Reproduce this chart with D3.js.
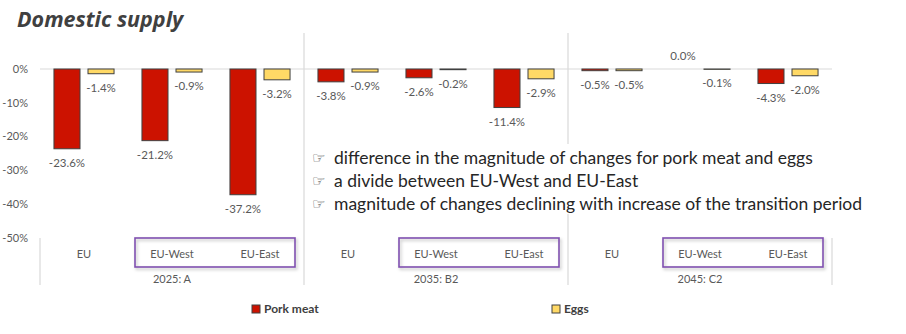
<!DOCTYPE html>
<html>
<head>
<meta charset="utf-8">
<script src="https://cdn.jsdelivr.net/npm/d3@7"></script>
<style>
  body { margin: 0; background: #fff; }
  svg { display: block; font-family: Lato, "Open Sans", sans-serif; }
</style>
</head>
<body>
<div class="chart"></div>
<script>
const categories = ["EU", "EU-West", "EU-East", "EU", "EU-West", "EU-East", "EU", "EU-West", "EU-East"];
const periods = ["2025: A", "2035: B2", "2045: C2"];
const porkMeat = [-23.6, -21.2, -37.2, -3.8, -2.6, -11.4, -0.5, 0.0, -4.3];
const eggs = [-1.4, -0.9, -3.2, -0.9, -0.2, -2.9, -0.5, -0.1, -2.0];
const yTicks = [0, -10, -20, -30, -40, -50];
const notes = [
    "difference in the magnitude of changes for pork meat and eggs",
    "a divide between EU-West and EU-East",
    "magnitude of changes declining with increase of the transition period"
];
const seriesNames = ["Pork meat", "Eggs"];
const colors = {"Pork meat": "#cc1200", "Eggs": "#ffd966"};

const svg = d3.select('.chart')
    .append('svg')
        .attr("width", 906)
        .attr("height", 334)
        .attr("viewBox", "0 0 906 334")

const defs = svg.append("defs");
const shadow = defs.append("filter").attr("id", "shadow")
    .attr("x", "-5%").attr("y", "-20%").attr("width", "115%").attr("height", "160%");
shadow.append("feDropShadow")
    .attr("dx", 1.5).attr("dy", 2).attr("stdDeviation", 1.5)
    .attr("flood-color", "#000").attr("flood-opacity", 0.25);

const chartLeftX = 40;
const chartRightX = 832;
const zeroY = 69;
const axisBottomY = 238;
const lineBottomY = 285;

const yScale = d3.scaleLinear()
    .domain([-50, 0])
    .range([axisBottomY, zeroY]);

const xScale = d3.scaleBand()
    .domain(d3.range(categories.length))
    .range([chartLeftX, chartRightX]);

const xInner = d3.scaleBand()
    .domain(seriesNames)
    .range([0, xScale.bandwidth()])
    .paddingInner(0.235)
    .paddingOuter(0.41);

// title
svg.append("text")
    .attr("x", 17)
    .attr("y", 27)
    .attr("font-family", "'Open Sans', sans-serif")
    .attr("font-size", 21.5)
    .attr("font-weight", "bold")
    .attr("font-style", "italic")
    .attr("fill", "#404040")
    .text("Domestic supply");

// y axis labels
svg.selectAll(".ytick")
    .data(yTicks)
    .join("text")
    .attr("class", "ytick")
    .attr("x", 28)
    .attr("y", d => yScale(d))
    .attr("dy", "0.35em")
    .attr("text-anchor", "end")
    .attr("font-size", 11)
    .attr("fill", "#595959")
    .text(d => d + "%");

// section separators
const sectionEdges = d3.range(0, categories.length + 1, 3).map(i =>
    i < categories.length ? xScale(i) : chartRightX);
svg.selectAll(".sep")
    .data(sectionEdges)
    .join("line")
    .attr("class", "sep")
    .attr("x1", d => d).attr("x2", d => d)
    .attr("y1", (d, i) => (i === 0 || i === sectionEdges.length - 1) ? axisBottomY : 33)
    .attr("y2", lineBottomY)
    .attr("stroke", "#d9d9d9")
    .attr("stroke-width", 1.2);

// zero line
svg.append("line")
    .attr("x1", chartLeftX).attr("x2", chartRightX)
    .attr("y1", yScale(0)).attr("y2", yScale(0))
    .attr("stroke", "#d9d9d9")
    .attr("stroke-width", 1.2);

// bars
const rows = categories.map((c, i) => ({i, values: [
    {name: "Pork meat", v: porkMeat[i]},
    {name: "Eggs", v: eggs[i]}
]}));

const groups = svg.selectAll(".grp")
    .data(rows)
    .join("g")
    .attr("class", "grp")
    .attr("transform", d => `translate(${xScale(d.i)},0)`);

groups.selectAll(".bar")
    .data(d => d.values.filter(v => v.v !== 0))
    .join("rect")
    .attr("class", "bar")
    .attr("x", d => xInner(d.name))
    .attr("y", yScale(0))
    .attr("width", xInner.bandwidth())
    .attr("height", d => yScale(d.v) - yScale(0))
    .attr("fill", d => colors[d.name])
    .attr("stroke", "#404040")
    .attr("stroke-width", 1);

groups.selectAll(".lbl")
    .data(d => d.values)
    .join("text")
    .attr("class", "lbl")
    .attr("x", d => xInner(d.name) + xInner.bandwidth() / 2)
    .attr("y", d => d.v < 0 ? yScale(d.v) + 14 : yScale(0) - 13)
    .attr("dy", "0.35em")
    .attr("text-anchor", "middle")
    .attr("font-size", 11.5)
    .attr("fill", "#595959")
    .text(d => d.v.toFixed(1) + "%");

// category labels
svg.selectAll(".cat")
    .data(categories)
    .join("text")
    .attr("class", "cat")
    .attr("x", (d, i) => xScale(i) + xScale.bandwidth() / 2)
    .attr("y", 254)
    .attr("dy", "0.35em")
    .attr("text-anchor", "middle")
    .attr("font-size", 11)
    .attr("fill", "#595959")
    .text(d => d);

// purple boxes around EU-West / EU-East
svg.selectAll(".box")
    .data(periods)
    .join("rect")
    .attr("class", "box")
    .attr("x", (d, i) => xScale(i * 3 + 1) + 7)
    .attr("y", axisBottomY)
    .attr("width", xScale.bandwidth() * 2 - 16)
    .attr("height", 29)
    .attr("fill", "none")
    .attr("stroke", "#7f4fb0")
    .attr("stroke-width", 1.6)
    .attr("filter", "url(#shadow)");

// period labels
svg.selectAll(".period")
    .data(periods)
    .join("text")
    .attr("class", "period")
    .attr("x", (d, i) => xScale(i * 3 + 1) + xScale.bandwidth() / 2)
    .attr("y", 279)
    .attr("dy", "0.35em")
    .attr("text-anchor", "middle")
    .attr("font-size", 11)
    .attr("fill", "#595959")
    .text(d => d);

// annotation box
const note = svg.append("g");
note.append("rect")
    .attr("x", 306).attr("y", 144)
    .attr("width", 585).attr("height", 70)
    .attr("fill", "#fff");
notes.forEach((t, i) => {
    const y = 158 + i * 23;
    note.append("text")
        .attr("x", 312).attr("y", y).attr("dy", "0.35em")
        .attr("font-family", "DejaVu Sans")
        .attr("font-size", 15)
        .attr("fill", "#404040")
        .text("\u261E");
    note.append("text")
        .attr("x", 334).attr("y", y).attr("dy", "0.35em")
        .attr("font-size", 17.5)
        .attr("fill", "#262626")
        .text(t);
});

// legend
const legend = svg.selectAll(".leg")
    .data(seriesNames)
    .join("g")
    .attr("class", "leg")
    .attr("transform", (d, i) => `translate(${[252, 552][i]},305)`);
legend.append("rect")
    .attr("width", 8).attr("height", 8)
    .attr("fill", d => colors[d])
    .attr("stroke", "#404040");
legend.append("text")
    .attr("x", 12).attr("y", 4).attr("dy", "0.35em")
    .attr("font-size", 12)
    .attr("font-weight", "bold")
    .attr("fill", "#404040")
    .text(d => d);
</script>
</body>
</html>
